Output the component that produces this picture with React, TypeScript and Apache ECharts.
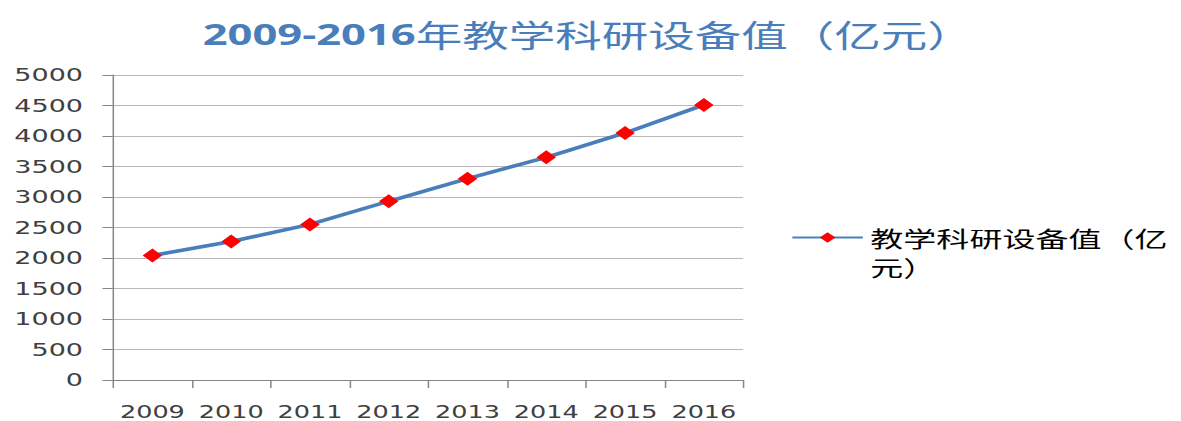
import React, { useEffect, useRef } from "react";
import * as echarts from "echarts";

const years: string[] = ["2009", "2010", "2011", "2012", "2013", "2014", "2015", "2016"];
const values: number[] = [2040, 2270, 2550, 2930, 3300, 3650, 4050, 4510];
const seriesName = "教学科研设备值（亿元）";
const titleYears = "2009-2016";
const titleRest = "年教学科研设备值（亿元）";

const BASE_W = 787;
const H = 421;

export default function App() {
  const ref = useRef<HTMLDivElement>(null);
  useEffect(() => {
    if (!ref.current) return;
    const chart = echarts.init(ref.current, undefined, { renderer: "svg" });
    chart.setOption({
      animation: false,
      backgroundColor: "#ffffff",
      title: {
        text: `{a|${titleYears}}{b|${titleRest}}`,
        left: 387,
        textAlign: "center",
        top: 13,
        textStyle: {
          rich: {
            a: { fontFamily: "'Open Sans', 'Noto Sans CJK SC'", fontWeight: "bold", fontSize: 29, color: "#4A7EBB" },
            b: { fontFamily: "'Noto Sans CJK SC'", fontWeight: "normal", fontSize: 31, color: "#4A7EBB" },
          },
        },
      },
      legend: {
        show: true,
        left: 527,
        top: 194,
        padding: 0,
        itemWidth: 47,
        itemHeight: 13,
        itemGap: 4,
        formatter: () => "\n教学科研设备值（亿\n元）",
        textStyle: {
          fontFamily: "'Noto Sans CJK SC'",
          fontSize: 22,
          color: "#000000",
          lineHeight: 29,
        },
      },
      grid: { left: 75.3, right: BASE_W - 495.3, top: 75, bottom: 41, containLabel: false },
      xAxis: {
        type: "category",
        data: years,
        boundaryGap: true,
        axisLine: { show: true, lineStyle: { color: "#868686", width: 1 } },
        axisTick: { show: true, alignWithLabel: false, length: 8, lineStyle: { color: "#868686" } },
        axisLabel: {
          interval: 0,
          margin: 24,
          fontSize: 17,
          fontFamily: "'DejaVu Sans'",
          color: "#404040",
        },
      },
      yAxis: {
        type: "value",
        min: 0,
        max: 5000,
        interval: 500,
        axisLine: { show: true, lineStyle: { color: "#868686", width: 1 } },
        axisTick: { show: true, length: 7, lineStyle: { color: "#868686" } },
        splitLine: { show: true, lineStyle: { color: "#b8b8b8", width: 1 } },
        axisLabel: {
          margin: 20,
          fontSize: 18,
          fontFamily: "'DejaVu Sans'",
          color: "#404040",
          formatter: (v: number) => String(v),
        },
      },
      series: [
        {
          name: seriesName,
          type: "line",
          data: values,
          symbol: "diamond",
          symbolSize: [13, 14],
          lineStyle: { color: "#4A7EBB", width: 3.5 },
          itemStyle: { color: "#FF0000" },
          color: "#4A7EBB",
        },
      ],
    });
    return () => chart.dispose();
  }, []);
  return (
    <div
      style={{
        position: "absolute",
        left: 0,
        top: 0,
        width: BASE_W,
        height: H,
        transform: `scaleX(${1181 / BASE_W})`,
        transformOrigin: "0 0",
      }}
    >
      <div ref={ref} style={{ width: BASE_W, height: H }} />
    </div>
  );
}
